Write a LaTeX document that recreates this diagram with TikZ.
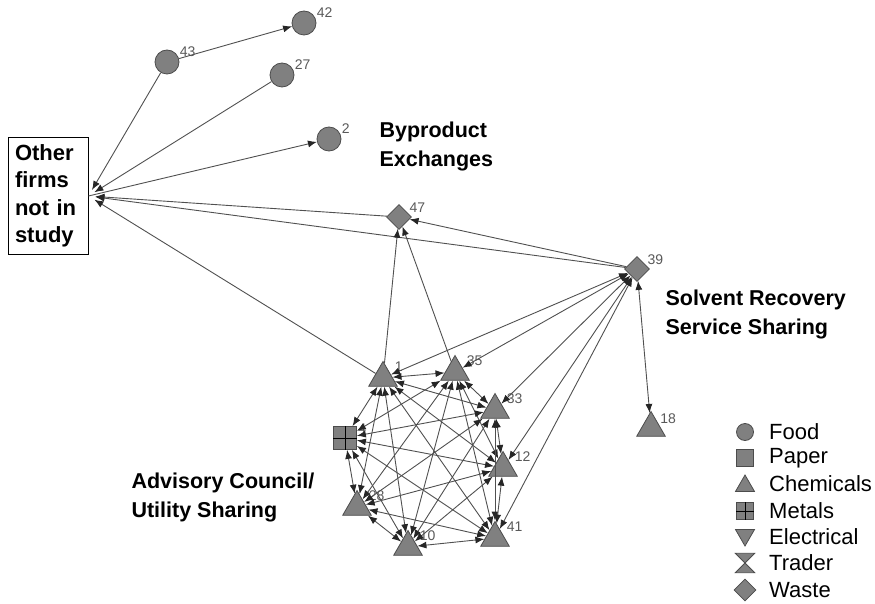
\documentclass[tikz,border=0pt]{standalone}
\usepackage{fontspec}
\setmainfont{Liberation Sans}
\usetikzlibrary{positioning,arrows.meta,shapes.geometric}
\definecolor{nodegray}{HTML}{808080}
\definecolor{edgegray}{HTML}{505050}
\tikzset{
  firm/.style={
    draw=black!70,
    fill=nodegray,
    line width=0.8pt,
    inner sep=0pt
  },
  food/.style={firm, circle, minimum size=24pt},
  paper/.style={firm, rectangle, minimum size=17pt},
  chem/.style={firm, regular polygon, regular polygon sides=3, minimum size=33pt},
  elec/.style={chem, regular polygon rotate=180},
  waste/.style={firm, diamond, minimum size=25pt},
  metal/.style={firm, rectangle, minimum size=23pt, append after command={
        [draw=black!70, line width=0.8pt]
        (\tikzlastnode.north) edge (\tikzlastnode.south)
        (\tikzlastnode.east) edge (\tikzlastnode.west)
        }
    },
  num/.style={text=black!65, font=\fontsize{14}{14}\selectfont, inner sep=1pt, fill=white, fill opacity=0, text opacity=1},
  group/.style={align=left, anchor=west, font=\bfseries\fontsize{21.5}{29}\selectfont},
  keytext/.style={anchor=west, inner sep=0pt, font=\fontsize{22}{22}\selectfont},
  tip/.tip={Latex[length=9pt,width=7pt,color=black!85]},
  line/.style={-tip, draw=edgegray, line width=0.9pt},
  twoway/.style={tip-tip, draw=edgegray, line width=0.9pt},
  toother/.style={line, shorten >=7pt}
}
\begin{document}
\begin{tikzpicture}[x=1pt,y=-1pt]
  \useasboundingbox (0,0) rectangle (875,604);

  % outside firms
  \node[draw, line width=0.9pt, text width=66pt, inner sep=7pt, align=left,
        font=\bfseries\fontsize{22}{27.5}\selectfont] (other_firms) at (48,196) {Other\\firms\\not~in\\study};

  % byproduct exchanges
  \node[food, label={[num]20:43}] (firm_43) at (167,62) {};
  \node[food, label={[num]20:42}] (firm_42) at (304,23) {};
  \node[food, label={[num]20:27}] (firm_27) at (282,75) {};
  \node[food, label={[num]20:2}] (firm_2) at (329,139) {};
  \node[group] (byproduct) at (376,146) {Byproduct\\Exchanges};

  \draw[line] (firm_43) -- (firm_42);
  \draw[toother] (firm_43) -- (other_firms.east);
  \draw[toother] (firm_27) -- (other_firms.east);
  \draw[line] (other_firms.east) -- (firm_2);

  % solvent recovery
  \node[waste, label={[num]20:47}] (firm_47) at (399,217) {};
  \node[waste, label={[num]20:39}] (firm_39) at (637,269) {};
  \node[chem, label={[num]20:18}] (firm_18) at (651,428) {};
  \node[group] (solvent) at (662,314) {Solvent Recovery\\Service Sharing};

  % advisory council
  \node[chem, label={[num, label distance=3pt]25:1}] (firm_1) at (383,378) {};
  \node[chem, label={[num, label distance=3pt]25:35}] (firm_35) at (455,372) {};
  \node[chem, label={[num, label distance=3pt]25:33}] (firm_33) at (495,410) {};
  \node[chem, label={[num, label distance=3pt]25:12}] (firm_12) at (503,468) {};
  \node[chem, label={[num, label distance=3pt]25:41}] (firm_41) at (495,538) {};
  \node[chem, label={[num, label distance=3pt]25:10}] (firm_10) at (408,547) {};
  \node[chem, label={[num, label distance=3pt]25:28}] (firm_28) at (357,507) {};
  \node[metal, label={[num]15:4}] (firm_4) at (345,438) {};
  \node[group] (advisory) at (128,497) {Advisory Council/\\Utility Sharing};

  \foreach \a [count=\i] in {1,35,33,12,41,10,28,4}{
    \foreach \b [count=\j] in {1,35,33,12,41,10,28,4}{
      \ifnum\j>\i \draw[twoway] (firm_\a) -- (firm_\b); \fi
    }
  }

  \draw[toother] (firm_47) -- (other_firms.east);
  \draw[toother] (firm_39) -- (other_firms.east);
  \draw[toother] (firm_1) -- (other_firms.east);
  \draw[line] (firm_39) -- (firm_47);
  \draw[line] (firm_1) -- (firm_47);
  \draw[line] (firm_35) -- (firm_47);
  \draw[twoway] (firm_39) -- (firm_1);
  \draw[twoway] (firm_39) -- (firm_35);
  \draw[twoway] (firm_39) -- (firm_33);
  \draw[twoway] (firm_39) -- (firm_12);
  \draw[twoway] (firm_39) -- (firm_41);
  \draw[twoway] (firm_39) -- (firm_18);

  % legend
  \node[food, minimum size=17pt] (key_food) at (745,432) {};
  \node[paper] (key_paper) at (745,458) {};
  \node[chem, minimum size=22pt] (key_chem) at (745,486) {};
  \node[metal, minimum size=17pt] (key_metal) at (745,511) {};
  \node[elec, minimum size=22pt] (key_elec) at (745,535) {};
  \node[minimum size=19pt, inner sep=0pt] (key_trader) at (745,563) {};
  \draw[firm] (key_trader.north west) -- (key_trader.north east) -- (key_trader.south west) -- (key_trader.south east) -- cycle;
  \node[waste, minimum size=22pt] (key_waste) at (745,590) {};

  \node[keytext] (txt_food) at (769,432) {Food};
  \node[keytext] (txt_paper) at (769,458) {Paper};
  \node[keytext] (txt_chem) at (769,484) {Chemicals};
  \node[keytext] (txt_metal) at (769,511) {Metals};
  \node[keytext] (txt_elec) at (769,537) {Electrical};
  \node[keytext] (txt_trader) at (769,563) {Trader};
  \node[keytext] (txt_waste) at (769,590) {Waste};

\end{tikzpicture}
\end{document}
